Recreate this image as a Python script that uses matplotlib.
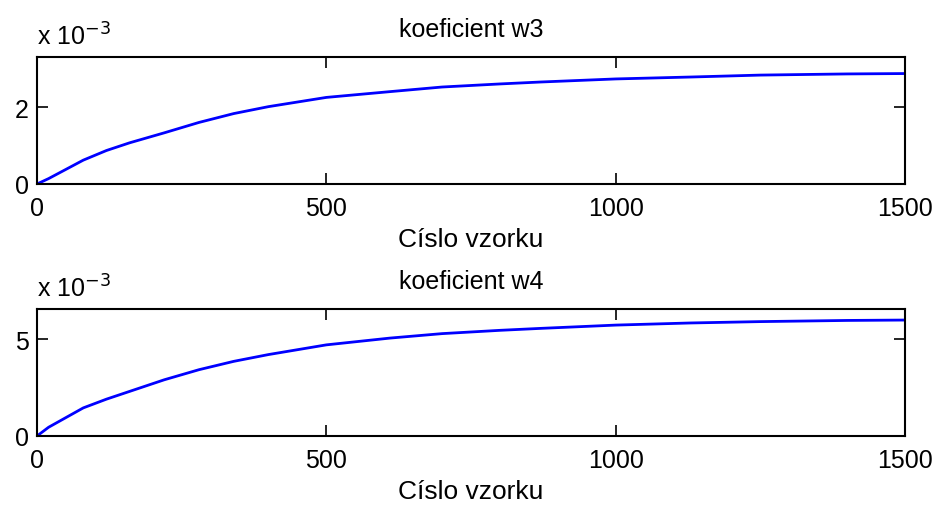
import matplotlib.pyplot as plt
import numpy as np

plt.rcParams['font.family'] = ['Liberation Sans', 'DejaVu Sans']

# sample index vs coefficient value (units of 1e-3)
n = [0, 20, 50, 80, 120, 160, 220, 280, 340, 400, 500, 610, 700, 800, 870, 1000, 1130, 1250, 1400, 1500]
w3 = [0, 0.14, 0.38, 0.62, 0.87, 1.07, 1.33, 1.6, 1.83, 2.01, 2.25, 2.4, 2.52, 2.6, 2.65, 2.73, 2.78, 2.83, 2.86, 2.87]
w4 = [0, 0.45, 0.95, 1.45, 1.9, 2.3, 2.9, 3.42, 3.85, 4.2, 4.7, 5.05, 5.28, 5.45, 5.55, 5.72, 5.83, 5.9, 5.96, 5.98]

fig = plt.figure(figsize=(9.33, 5.06), dpi=100)
ax1 = fig.add_axes([37/933, 1-185/506, 868/933, 127/506])
ax2 = fig.add_axes([37/933, 1-437/506, 868/933, 127/506])

for ax, w, name, ymax, yt in [(ax1, w3, 'koeficient w3', 3.3, [0, 2]),
                              (ax2, w4, 'koeficient w4', 6.55, [0, 5])]:
    ax.plot(n, w, color='#0000ff', lw=2)
    ax.set_xlim(0, 1500)
    ax.set_ylim(0, ymax)
    ax.set_xticks([0, 500, 1000, 1500])
    ax.set_yticks(yt)
    ax.tick_params(direction='in', length=8, width=1.2, labelsize=18,
                   top=True, right=True)
    ax.tick_params(axis='x', pad=9)
    ax.tick_params(axis='y', pad=6)
    for s in ax.spines.values():
        s.set_linewidth(1.5)
    ax.set_title(name, fontsize=18, pad=15)
    ax.set_xlabel('Císlo vzorku', fontsize=19, labelpad=5)
    ax.text(0, 1.06, 'x 10$^{-3}$', transform=ax.transAxes, fontsize=18,
            va='bottom', ha='left')

fig.savefig('out.png', dpi=100)
